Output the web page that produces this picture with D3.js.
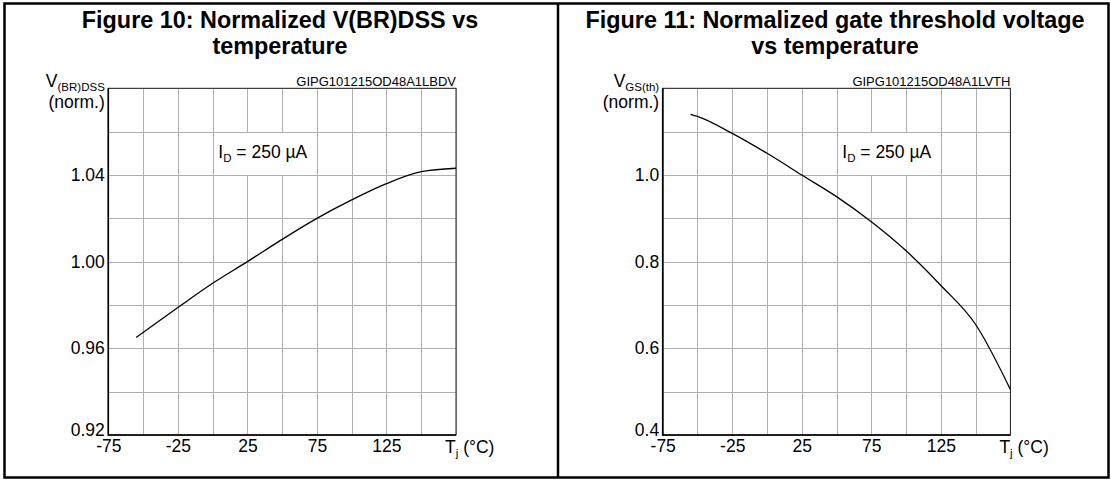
<!DOCTYPE html>
<html>
<head>
<meta charset="utf-8">
<script src="https://cdn.jsdelivr.net/npm/d3@7"></script>
<style>
  body { margin: 0; background: #fff; }
  svg { display: block; font-family: "Liberation Sans", Arial, sans-serif; }
</style>
</head>
<body>
<div id="chart"></div>
<script>
// temperature grid and labels (shared by both figures)
const tempGrid = [-75, -50, -25, 0, 25, 50, 75, 100, 125, 150, 175];
const tempLabels = [-75, -25, 25, 75, 125];

// Figure 10: normalized V(BR)DSS
const bvTemp = [-55, -25, 0, 25, 50, 75, 100, 125, 150, 175];
const bvVal = [0.965, 0.9788, 0.990, 1.000, 1.0103, 1.020, 1.0285, 1.036, 1.0415, 1.0431];
const bvGrid = [0.92, 0.94, 0.96, 0.98, 1.00, 1.02, 1.04, 1.06, 1.08];
const bvLabels = [0.92, 0.96, 1.00, 1.04];

// Figure 11: normalized gate threshold voltage
const vthTemp = [-55, -50, -25, 0, 25, 50, 75, 100, 125, 150, 175];
const vthVal = [1.14, 1.135, 1.096, 1.05, 1.0, 0.95, 0.892, 0.825, 0.745, 0.655, 0.505];
const vthGrid = [0.4, 0.5, 0.6, 0.7, 0.8, 0.9, 1.0, 1.1, 1.2];
const vthLabels = [0.4, 0.6, 0.8, 1.0];

const width = 1111, height = 480;
const plotW = 347.7, plotTop = 88.3, plotBottom = 435;

const svg = d3.select("#chart")
    .append("svg")
    .attr("width", width)
    .attr("height", height);

// outer frame and divider
svg.append("rect")
    .attr("x", 4.5).attr("y", 3.5)
    .attr("width", 1104).attr("height", 474)
    .attr("fill", "none").attr("stroke", "#000").attr("stroke-width", 2.5);
svg.append("line")
    .attr("x1", 558).attr("x2", 558).attr("y1", 3).attr("y2", 478)
    .attr("stroke", "#000").attr("stroke-width", 2.5);

const panels = [
    {
        left: 108.3, center: 280,
        title: ["Figure 10: Normalized V(BR)DSS vs", "temperature"],
        code: "GIPG101215OD48A1LBDV",
        yMain: "V", ySub: "(BR)DSS",
        temp: bvTemp, val: bvVal, grid: bvGrid, labels: bvLabels,
        fmt: d3.format(".2f"),
        box: [0, 75, 1.06, 1.04]
    },
    {
        left: 662.7, center: 835,
        title: ["Figure 11: Normalized gate threshold voltage", "vs temperature"],
        code: "GIPG101215OD48A1LVTH",
        yMain: "V", ySub: "GS(th)",
        temp: vthTemp, val: vthVal, grid: vthGrid, labels: vthLabels,
        fmt: d3.format(".1f"),
        box: [50, 125, 1.1, 1.0]
    }
];

panels.forEach(function (p) {
    const x = d3.scaleLinear().domain([-75, 175]).range([p.left, p.left + plotW]);
    const y = d3.scaleLinear().domain(d3.extent(p.grid)).range([plotBottom, plotTop]);

    // title
    svg.append("text")
        .attr("x", p.center).attr("y", 28)
        .attr("text-anchor", "middle")
        .style("font-size", "23.4px").style("font-weight", "bold")
        .text(p.title[0]);
    svg.append("text")
        .attr("x", p.center).attr("y", 54)
        .attr("text-anchor", "middle")
        .style("font-size", "23.4px").style("font-weight", "bold")
        .text(p.title[1]);

    // grid
    const g = svg.append("g");
    g.selectAll(".vgrid")
        .data(p.grid)
        .enter().append("line")
        .attr("x1", p.left).attr("x2", p.left + plotW)
        .attr("y1", function (d) { return Math.round(y(d)) + 0.5; })
        .attr("y2", function (d) { return Math.round(y(d)) + 0.5; })
        .attr("stroke", "#b0b0b0");
    g.selectAll(".tgrid")
        .data(tempGrid)
        .enter().append("line")
        .attr("x1", function (d) { return Math.round(x(d)) + 0.5; })
        .attr("x2", function (d) { return Math.round(x(d)) + 0.5; })
        .attr("y1", plotTop).attr("y2", plotBottom)
        .attr("stroke", "#b0b0b0");

    // white box behind the ID label
    const bx0 = Math.round(x(p.box[0])) + 1, bx1 = Math.round(x(p.box[1]));
    const by0 = Math.round(y(p.box[2])) + 1, by1 = Math.round(y(p.box[3]));
    g.append("rect")
        .attr("x", bx0).attr("y", by0)
        .attr("width", bx1 - bx0).attr("height", by1 - by0)
        .attr("fill", "#fff");
    const idText = g.append("text")
        .attr("x", x(p.box[0]) + 5.7).attr("y", y(p.box[2]) + 26.3)
        .style("font-size", "17.5px");
    idText.append("tspan").text("I");
    idText.append("tspan").attr("dy", 4).style("font-size", "11.5px").text("D");
    idText.append("tspan").attr("dy", -4).text(" = 250 µA");

    // plot frame and axes
    g.append("rect")
        .attr("x", p.left).attr("y", plotTop)
        .attr("width", plotW).attr("height", plotBottom - plotTop)
        .attr("fill", "none").attr("stroke", "#222").attr("stroke-width", 1);
    g.append("line")
        .attr("x1", p.left).attr("x2", p.left)
        .attr("y1", plotTop).attr("y2", plotBottom + 0.8)
        .attr("stroke", "#000").attr("stroke-width", 1.6);
    g.append("line")
        .attr("x1", p.left).attr("x2", p.left + plotW)
        .attr("y1", plotBottom).attr("y2", plotBottom)
        .attr("stroke", "#000").attr("stroke-width", 1.6);

    // curve
    const line = d3.line()
        .x(function (d, i) { return x(p.temp[i]); })
        .y(function (d) { return y(d); })
        .curve(d3.curveMonotoneX);
    g.append("path")
        .datum(p.val)
        .attr("d", line)
        .attr("fill", "none")
        .attr("stroke", "#000")
        .attr("stroke-width", 1.3);

    // x labels (plain hyphen, not unicode minus)
    const xAxis = svg.append("g")
        .attr("transform", "translate(0," + plotBottom + ")")
        .call(d3.axisBottom(x).tickValues(tempLabels).tickSize(0).tickPadding(5)
            .tickFormat(function (d) { return String(d); }));
    xAxis.select(".domain").remove();
    xAxis.selectAll("text")
        .attr("fill", "#000")
        .style("font-size", "17.5px")
        .style("font-family", "Liberation Sans, Arial, sans-serif");
    const tj = svg.append("text")
        .attr("x", p.left + plotW - 11).attr("y", 453)
        .style("font-size", "17.5px");
    tj.append("tspan").text("T");
    tj.append("tspan").attr("dy", 4).style("font-size", "11.5px").text("j");
    tj.append("tspan").attr("dy", -4).text(" (°C)");

    // y labels
    const yAxis = svg.append("g")
        .attr("transform", "translate(" + (p.left - 3.5) + ",0)")
        .call(d3.axisLeft(y).tickValues(p.labels).tickSize(0).tickPadding(0).tickFormat(p.fmt));
    yAxis.select(".domain").remove();
    yAxis.selectAll("text")
        .attr("fill", "#000")
        .style("font-size", "17.5px")
        .style("font-family", "Liberation Sans, Arial, sans-serif");
    // bottom label sits on the axis line
    yAxis.selectAll(".tick")
        .filter(function (d) { return d === p.labels[0]; })
        .select("text").attr("dy", "0.03em");

    // y title
    const yt = svg.append("text")
        .attr("x", p.left - 3.5).attr("y", 87)
        .attr("text-anchor", "end")
        .style("font-size", "17.5px");
    yt.append("tspan").text(p.yMain);
    yt.append("tspan").attr("dy", 4).style("font-size", "11.5px").text(p.ySub);
    svg.append("text")
        .attr("x", p.left - 3.5).attr("y", 108)
        .attr("text-anchor", "end")
        .style("font-size", "17.5px")
        .text("(norm.)");

    // figure code
    svg.append("text")
        .attr("x", p.left + plotW).attr("y", 86)
        .attr("text-anchor", "end")
        .style("font-size", "13px")
        .text(p.code);
});
</script>
</body>
</html>
